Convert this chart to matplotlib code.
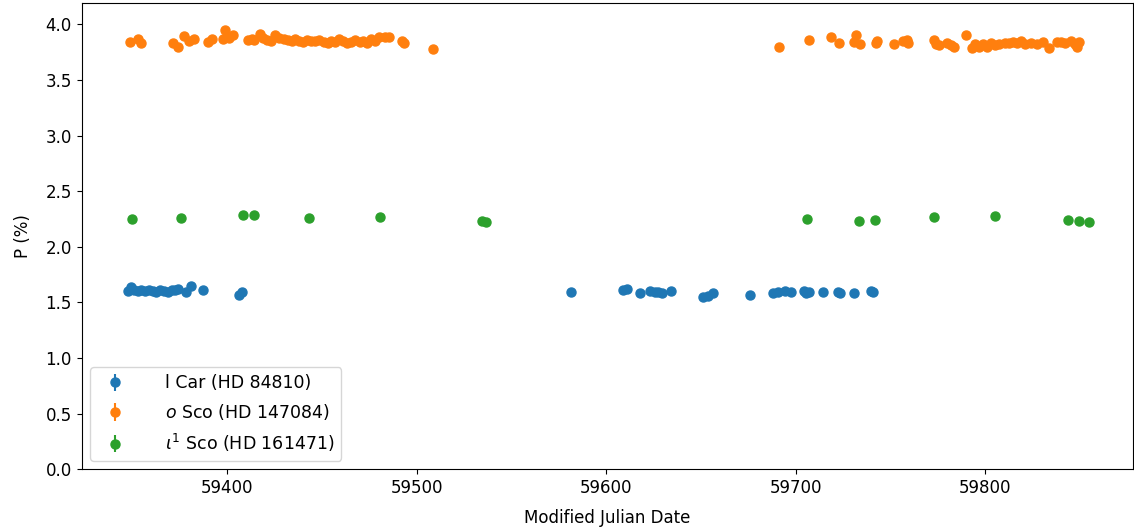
import numpy as np
import matplotlib
matplotlib.use('Agg')
import matplotlib.pyplot as plt

# l Car (HD 84810)
lcar_mjd = [59347.5, 59349.0, 59350.5, 59352.5, 59354.5, 59356.5, 59358.5, 59360.5,
            59362.5, 59364.5, 59366.5, 59368.5, 59370.5, 59372.5, 59374.0,
            59378.2, 59380.8, 59387.0, 59406.3, 59407.4,
            59581.4, 59608.6, 59610.9, 59617.8, 59623.0, 59625.5, 59627.3, 59629.4, 59634.3,
            59650.8, 59653.5, 59656.5, 59676.0,
            59688.0, 59690.4, 59694.1, 59697.5, 59704.5, 59705.5, 59707.1,
            59714.5, 59722.1, 59723.3, 59730.9, 59739.7, 59741.0]
lcar_p = [1.60, 1.64, 1.61, 1.60, 1.61, 1.60, 1.61, 1.60,
          1.59, 1.61, 1.60, 1.59, 1.61, 1.61, 1.62,
          1.59, 1.65, 1.61, 1.57, 1.59,
          1.59, 1.61, 1.62, 1.58, 1.60, 1.59, 1.59, 1.58, 1.60,
          1.55, 1.56, 1.58, 1.57,
          1.58, 1.59, 1.60, 1.59, 1.60, 1.58, 1.59,
          1.59, 1.59, 1.58, 1.58, 1.60, 1.59]

# o Sco (HD 147084)
osco_mjd = [59348.3, 59352.7, 59354.5, 59371.1, 59373.8, 59377.3, 59379.6, 59382.1,
            59389.6, 59391.9, 59397.5, 59398.9, 59400.7, 59402.8,
            59410.6, 59412.7, 59414.2, 59416.9, 59418.5, 59421.1, 59423.2, 59425.3,
            59427.4, 59429.6, 59431.7, 59433.8, 59435.9, 59438.0, 59440.1, 59442.2,
            59444.3, 59446.4, 59448.5, 59450.7, 59452.8, 59454.9, 59457.0, 59459.1,
            59461.2, 59463.3, 59465.4, 59467.5, 59469.7, 59471.8, 59473.9, 59476.0,
            59478.1, 59480.2, 59483.4, 59485.5, 59492.0, 59493.0, 59508.7,
            59691.3, 59706.8, 59718.6, 59723.0, 59730.9, 59731.8, 59734.0, 59742.3,
            59743.1, 59752.0, 59756.4, 59759.0, 59759.5, 59773.1, 59774.0, 59775.7,
            59779.9, 59782.1, 59783.6, 59790.0, 59793.1, 59794.7, 59796.8, 59798.9,
            59801.0, 59803.2, 59805.3, 59807.4, 59810.6, 59812.7, 59814.8, 59816.9,
            59819.0, 59821.1, 59824.3, 59827.4, 59830.6, 59833.8, 59838.0, 59840.1,
            59842.2, 59845.4, 59847.5, 59848.5, 59849.6]
osco_p = [3.84, 3.865, 3.83, 3.835, 3.80, 3.895, 3.85, 3.87,
          3.84, 3.865, 3.87, 3.95, 3.88, 3.90,
          3.86, 3.87, 3.86, 3.91, 3.88, 3.86, 3.85, 3.90,
          3.88, 3.87, 3.86, 3.85, 3.87, 3.85, 3.84, 3.86,
          3.85, 3.85, 3.86, 3.84, 3.83, 3.85, 3.84, 3.87,
          3.85, 3.83, 3.84, 3.86, 3.84, 3.85, 3.83, 3.87,
          3.85, 3.89, 3.89, 3.89, 3.85, 3.83, 3.78,
          3.80, 3.86, 3.89, 3.83, 3.84, 3.90, 3.82, 3.83,
          3.85, 3.82, 3.85, 3.86, 3.83, 3.86, 3.82, 3.81,
          3.83, 3.81, 3.80, 3.90, 3.79, 3.82, 3.80, 3.82,
          3.80, 3.83, 3.81, 3.82, 3.83, 3.83, 3.84, 3.83,
          3.85, 3.82, 3.83, 3.82, 3.84, 3.79, 3.84, 3.84,
          3.83, 3.85, 3.82, 3.80, 3.84]

# iota^1 Sco (HD 161471)
isco_mjd = [59349.7, 59375.7, 59408.1, 59414.1, 59442.9, 59480.7, 59534.6, 59536.7,
            59706.1, 59733.5, 59742.0, 59773.1, 59805.3, 59843.8, 59849.6, 59854.9]
isco_p = [2.25, 2.26, 2.29, 2.29, 2.26, 2.27, 2.23, 2.22,
          2.25, 2.23, 2.24, 2.27, 2.28, 2.24, 2.23, 2.22]

fig, ax = plt.subplots(figsize=(11.34, 5.29), dpi=100)

series = [
    (lcar_mjd, lcar_p, 'l Car (HD 84810)'),
    (osco_mjd, osco_p, r'$o$ Sco (HD 147084)'),
    (isco_mjd, isco_p, r'$\iota^1$ Sco (HD 161471)'),
]
for mjd, p, label in series:
    ax.errorbar(mjd, p, yerr=0.015, fmt='o', ms=6.5, label=label)

ax.set_xlabel('Modified Julian Date', fontsize=12, labelpad=9)
ax.set_ylabel('P (%)', fontsize=12, labelpad=10)
ax.tick_params(labelsize=12)
ax.set_ylim(0, 4.19)
ax.set_xlim(59323, 59878)
ax.legend(loc='lower left', fontsize=12.5, handletextpad=1.9, labelspacing=0.55)

fig.subplots_adjust(left=0.072, right=0.999, top=0.994, bottom=0.113)
fig.savefig('out.png', dpi=100)
